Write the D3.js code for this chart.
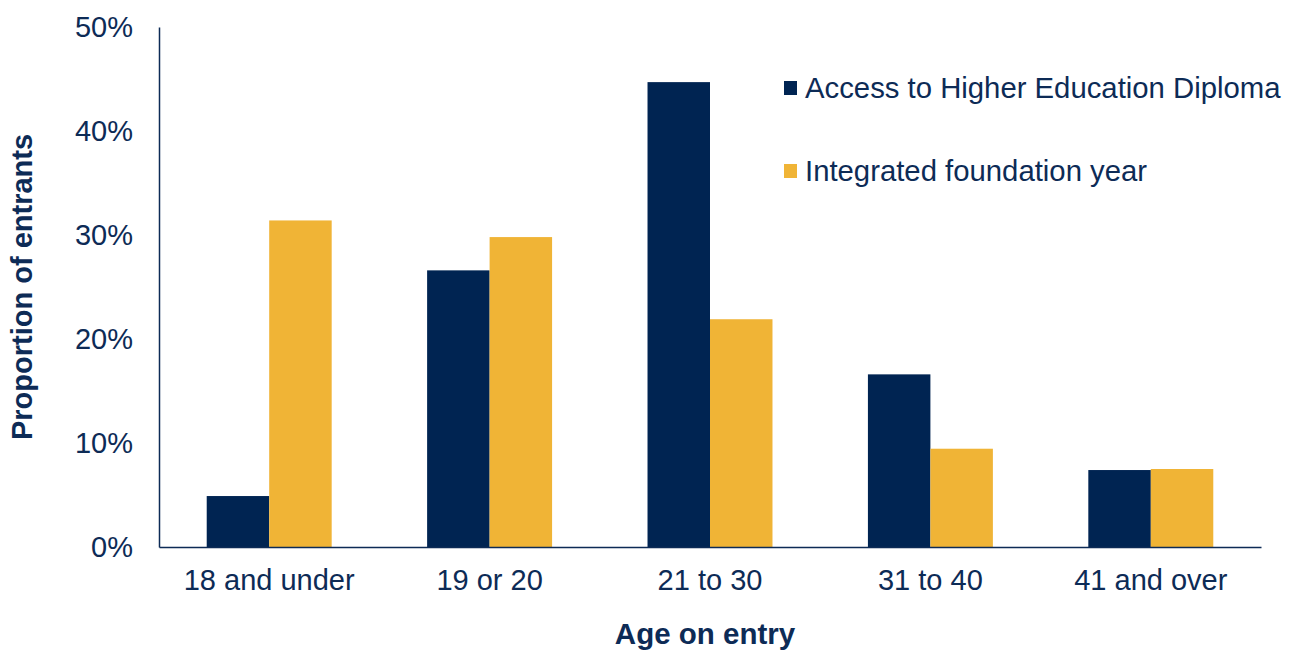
<!DOCTYPE html>
<html>
<head>
<meta charset="utf-8">
<script src="https://cdn.jsdelivr.net/npm/d3@7"></script>
<style>
  body { margin: 0; background: #fff; }
  text { font-family: "Liberation Sans", Arial, sans-serif; fill: #0d2b56; }
</style>
</head>
<body>
<div id="chart"></div>
<script>
// Data (percent of entrants)
var ageGroups = ["18 and under", "19 or 20", "21 to 30", "31 to 40", "41 and over"];
var seriesNames = ["Access to Higher Education Diploma", "Integrated foundation year"];
var accessValues = [4.9, 26.6, 44.7, 16.6, 7.4];
var foundationValues = [31.4, 29.8, 21.9, 9.45, 7.5];
var yTicks = [0, 10, 20, 30, 40, 50];
var colors = ["#002452", "#f0b436"];

var width = 1296;
var height = 653;
var margin = {top: 27, right: 35, bottom: 106, left: 159};
var w = width - margin.left - margin.right;
var h = height - margin.top - margin.bottom;

var data = ageGroups.map(function(g, i) {
  return {group: g, values: [accessValues[i], foundationValues[i]]};
});

var svg = d3.select("#chart").append("svg")
    .attr("width", width)
    .attr("height", height)
  .append("g")
    .attr("transform", "translate(" + margin.left + "," + margin.top + ")");

var x0 = d3.scaleBand()
    .domain(ageGroups)
    .range([0, w])
    .paddingInner(0.433)
    .paddingOuter(0.2165);

var x1 = d3.scaleBand()
    .domain([0, 1])
    .range([0, x0.bandwidth()]);

var y = d3.scaleLinear()
    .domain([0, 50])
    .range([h, 0]);

// bars
var groups = svg.selectAll(".group")
    .data(data)
  .enter().append("g")
    .attr("class", "group")
    .attr("transform", function(d) { return "translate(" + x0(d.group) + ",0)"; });

groups.selectAll("rect")
    .data(function(d) { return d.values; })
  .enter().append("rect")
    .attr("x", function(d, i) { return x1(i); })
    .attr("y", function(d) { return y(d); })
    .attr("width", x1.bandwidth())
    .attr("height", function(d) { return h - y(d); })
    .attr("fill", function(d, i) { return colors[i]; });

// y axis
var yAxis = d3.axisLeft(y)
    .tickValues(yTicks)
    .tickSize(0)
    .tickPadding(26)
    .tickFormat(function(d) { return d + "%"; });

var gy = svg.append("g")
    .attr("class", "axis y")
    .call(yAxis);
gy.select(".domain").attr("stroke", "#0d2b56").attr("stroke-width", 1.5);
gy.selectAll("text").style("font-size", "29px").attr("fill", "#0d2b56");

// x axis
var xAxis = d3.axisBottom(x0)
    .tickSize(0)
    .tickPadding(22);

var gx = svg.append("g")
    .attr("class", "axis x")
    .attr("transform", "translate(0," + h + ")")
    .call(xAxis);
gx.select(".domain").attr("stroke", "#0d2b56").attr("stroke-width", 1.5);
gx.selectAll("text").style("font-size", "29px").attr("fill", "#0d2b56");

// axis titles
svg.append("text")
    .attr("x", w / 2 - 5)
    .attr("y", h + 97)
    .style("text-anchor", "middle")
    .style("font-size", "29.5px")
    .style("font-weight", "bold")
    .text("Age on entry");

svg.append("text")
    .attr("transform", "rotate(-90)")
    .attr("x", -(h / 2))
    .attr("y", -127)
    .style("text-anchor", "middle")
    .style("font-size", "29px")
    .style("font-weight", "bold")
    .text("Proportion of entrants");

// legend
var legend = svg.selectAll(".legend")
    .data(seriesNames)
  .enter().append("g")
    .attr("class", "legend")
    .attr("transform", function(d, i) { return "translate(" + (784 - margin.left) + "," + (81 + i * 83 - margin.top) + ")"; });

legend.append("rect")
    .attr("width", 13)
    .attr("height", 14)
    .attr("fill", function(d, i) { return colors[i]; });

legend.append("text")
    .attr("x", 21)
    .attr("y", 17)
    .style("font-size", "29.3px")
    .text(function(d) { return d; });
</script>
</body>
</html>
